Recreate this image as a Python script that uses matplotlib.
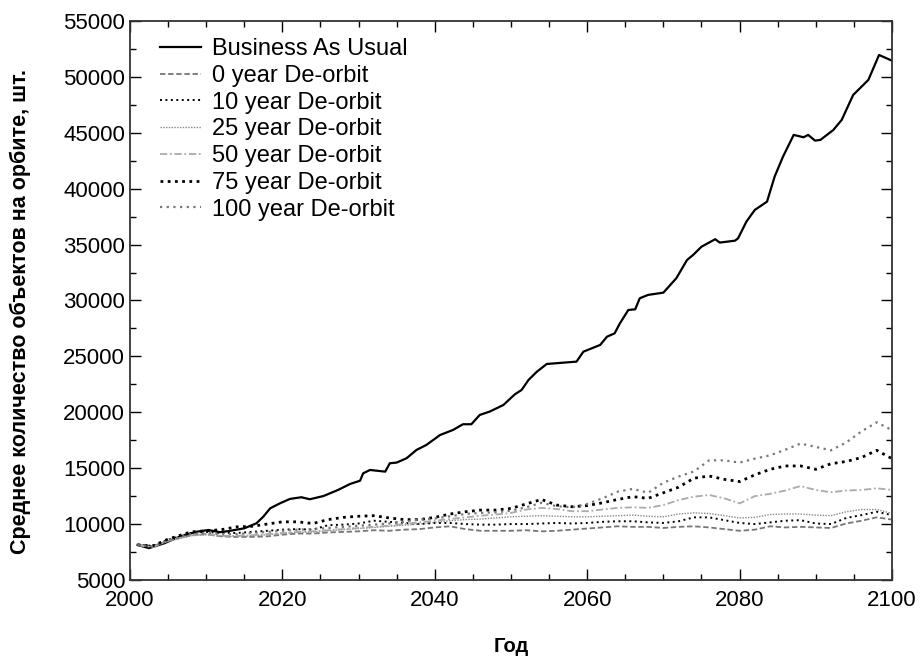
import numpy as np
import matplotlib.pyplot as plt
from matplotlib.ticker import MultipleLocator

# Business As Usual curve
bau_years = [2001, 2002.5, 2004.5, 2006.5, 2008.8, 2010.3, 2011.8, 2013, 2015, 2016.6,
             2017.5, 2018.4, 2019.7, 2021, 2022.5, 2023.6, 2025.4, 2027.3, 2028.9, 2030.2,
             2030.6, 2031.5, 2033.5, 2034.1, 2035, 2036.3, 2037.6, 2038.9, 2040.7, 2042.4,
             2043.7, 2044.8, 2045.9, 2047.2, 2049.0, 2050.5, 2051.4, 2052.3, 2053.4, 2054.7,
             2056.9, 2058.6, 2059.5, 2061.7, 2062.6, 2063.6, 2064.3, 2065.4, 2066.3, 2066.9,
             2068, 2070, 2071.7, 2073.1, 2073.9, 2075, 2076.8, 2077.4, 2079.4, 2079.8,
             2080.9, 2082, 2083.6, 2084.6, 2085.7, 2087.1, 2088.4, 2089, 2089.9, 2090.6,
             2092.3, 2093.4, 2094.9, 2096.9, 2098.3, 2100]
bau_vals = [8130, 7850, 8280, 8870, 9320, 9470, 9270, 9380, 9620, 10070,
            10660, 11410, 11860, 12250, 12400, 12220, 12510, 13050, 13590, 13880,
            14540, 14840, 14690, 15440, 15500, 15890, 16630, 17080, 17970, 18420,
            18930, 18930, 19760, 20060, 20650, 21600, 22000, 22890, 23630, 24320,
            24440, 24530, 25420, 26020, 26760, 27060, 27960, 29150, 29210, 30200,
            30500, 30700, 31990, 33620, 34070, 34810, 35480, 35180, 35350, 35560,
            37060, 38100, 38840, 41080, 42870, 44810, 44600, 44810, 44300, 44360,
            45250, 46150, 48380, 49730, 51960, 51450]

# de-orbit scenarios
years = [2001, 2003, 2005, 2008, 2010, 2012, 2014, 2016, 2018, 2020,
         2022, 2024, 2026, 2028, 2030, 2032, 2034, 2036, 2038, 2040,
         2042, 2044, 2046, 2048, 2050, 2052, 2054, 2056, 2058, 2060,
         2062, 2064, 2066, 2068, 2070, 2072, 2074, 2076, 2078, 2080,
         2082, 2084, 2086, 2088, 2090, 2092, 2094, 2096, 2098, 2100]

deorbit_0 = [8150, 8000, 8500, 9000, 9100, 8900, 8850, 8850, 8900, 9050,
             9150, 9150, 9250, 9300, 9350, 9450, 9400, 9500, 9550, 9700,
             9800, 9550, 9400, 9400, 9400, 9450, 9350, 9400, 9500, 9600,
             9700, 9800, 9750, 9750, 9650, 9750, 9800, 9700, 9550, 9400,
             9500, 9800, 9700, 9750, 9700, 9650, 10050, 10300, 10600, 10400]
deorbit_10 = [8150, 8050, 8600, 9200, 9300, 9200, 9200, 9300, 9400, 9500,
              9550, 9500, 9900, 9950, 10050, 10300, 10200, 10100, 10000, 10100,
              10100, 10000, 9950, 9950, 10000, 10000, 10050, 10100, 10050, 10100,
              10200, 10250, 10250, 10150, 10100, 10250, 10600, 10600, 10350, 10100,
              10000, 10150, 10300, 10350, 10050, 10000, 10550, 10800, 11100, 10800]
deorbit_25 = [8100, 7950, 8450, 8950, 9050, 8900, 8900, 8950, 9050, 9150,
              9250, 9300, 9400, 9500, 9600, 9700, 9800, 9900, 10000, 10150,
              10300, 10400, 10450, 10550, 10650, 10700, 10750, 10700, 10650, 10650,
              10700, 10750, 10800, 10700, 10650, 10900, 11000, 10950, 10750, 10550,
              10600, 10850, 10900, 10900, 10800, 10750, 11100, 11300, 11300, 10950]
deorbit_50 = [8100, 7950, 8500, 9000, 9100, 8950, 8950, 9000, 9100, 9200,
              9300, 9350, 9450, 9550, 9650, 9750, 9850, 10000, 10150, 10300,
              10450, 10600, 10750, 10850, 11000, 11300, 11450, 11350, 11150, 11150,
              11300, 11450, 11500, 11450, 11700, 12150, 12450, 12600, 12300, 11850,
              12500, 12700, 13000, 13400, 13050, 12850, 13000, 13050, 13200, 13050]
deorbit_75 = [8150, 8050, 8650, 9300, 9400, 9500, 9750, 9800, 10000, 10200,
              10200, 10050, 10400, 10600, 10700, 10750, 10550, 10400, 10400, 10600,
              10900, 11100, 11250, 11250, 11400, 11800, 12200, 11700, 11550, 11650,
              11900, 12200, 12450, 12300, 12800, 13300, 14100, 14300, 14000, 13800,
              14400, 14900, 15200, 15200, 14900, 15400, 15600, 15950, 16600, 15850]
deorbit_100 = [8150, 8000, 8550, 9100, 9200, 9100, 9100, 9200, 9300, 9400,
               9500, 9550, 9650, 9750, 9850, 9950, 10050, 10200, 10400, 10500,
               10700, 10900, 11000, 11050, 11200, 11500, 11900, 11600, 11500, 11800,
               12300, 12900, 13150, 12800, 13700, 14250, 14700, 15700, 15700, 15500,
               15850, 16150, 16650, 17200, 16900, 16600, 17300, 18300, 19100, 18400]

plt.rcParams['font.family'] = ['Liberation Sans', 'DejaVu Sans']

fig = plt.figure(figsize=(9.23, 6.56), dpi=100)
ax = fig.add_axes([0.1408, 0.1159, 0.8256, 0.8521])

ax.plot(bau_years, bau_vals, color='black', lw=1.6, label='Business As Usual')
ax.plot(years, deorbit_0, color='#777777', lw=1.3, ls=(0, (3, 1.5)), label='0 year De-orbit')
ax.plot(years, deorbit_10, color='black', lw=1.4, ls=(0, (1, 1.8)), label='10 year De-orbit')
ax.plot(years, deorbit_25, color='#888888', lw=1.0, ls=(0, (1, 1)), label='25 year De-orbit')
ax.plot(years, deorbit_50, color='#aaaaaa', lw=1.3, ls=(0, (4, 1.5, 1, 1.5)), label='50 year De-orbit')
ax.plot(years, deorbit_75, color='black', lw=2.0, ls=(0, (1, 1.6)), label='75 year De-orbit')
ax.plot(years, deorbit_100, color='#777777', lw=1.6, ls=(0, (1, 2)), label='100 year De-orbit')

ax.set_xlim(2000, 2100)
ax.set_ylim(5000, 55000)
ax.xaxis.set_major_locator(MultipleLocator(20))
ax.xaxis.set_minor_locator(MultipleLocator(5))
ax.yaxis.set_major_locator(MultipleLocator(5000))
ax.yaxis.set_minor_locator(MultipleLocator(2500))
ax.tick_params(which='both', direction='in', top=True, right=True, labelsize=16)
ax.tick_params(which='major', length=8, width=1)
ax.tick_params(which='minor', length=4, width=1)
ax.tick_params(axis='x', pad=7)
for s in ax.spines.values():
    s.set_linewidth(1.3)
    s.set_color('#333333')

ax.set_xlabel('Год', fontsize=14.5, fontweight='bold')
ax.set_ylabel('Среднее количество объектов на орбите, шт.', fontsize=15.5,
              fontweight='bold')
ax.xaxis.set_label_coords(0.5, -0.102)
ax.yaxis.set_label_coords(-0.13, 0.48)

ax.legend(loc='upper left', bbox_to_anchor=(0.027, 0.986), borderaxespad=0,
          frameon=False, fontsize=17, handlelength=1.75,
          labelspacing=0.2, handletextpad=0.45)

fig.savefig('out.png', dpi=100)
